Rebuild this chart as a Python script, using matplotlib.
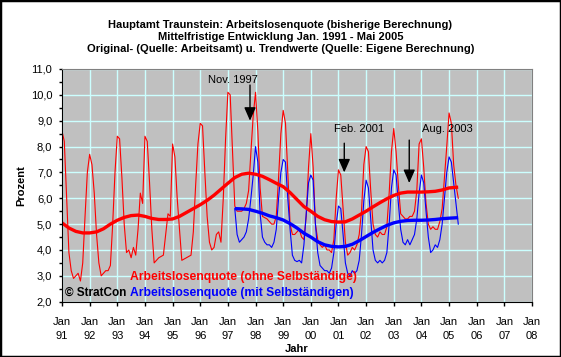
import matplotlib
matplotlib.use("Agg")
import matplotlib.pyplot as plt
import numpy as np
from matplotlib.patches import Rectangle

plt.rcParams['font.family'] = ['Liberation Sans', 'DejaVu Sans']

# ---- data ----
title_lines = ["Hauptamt Traunstein: Arbeitslosenquote (bisherige Berechnung)",
               "Mittelfristige Entwicklung Jan. 1991 - Mai 2005",
               "Original- (Quelle: Arbeitsamt) u. Trendwerte (Quelle: Eigene Berechnung)"]

# Red: Arbeitslosenquote (ohne Selbständige), monthly Jan 1991 - May 2005
red_1991 = [8.6, 8.2, 6.1, 3.9, 3.2, 2.9, 3.0, 3.1, 2.8, 3.5, 5.3, 7.0]
red_1992 = [7.7, 7.3, 6.2, 4.6, 3.5, 3.0, 3.1, 3.2, 3.2, 3.4, 5.0, 7.0]
red_1993 = [8.4, 8.3, 6.8, 5.0, 3.9, 4.0, 3.7, 4.1, 3.8, 4.8, 6.2, 5.8]
red_1994 = [8.4, 8.2, 6.6, 4.8, 3.5, 3.6, 3.7, 3.75, 3.8, 4.6, 5.4, 5.3]
red_1995 = [8.1, 7.6, 6.0, 4.8, 3.6, 3.65, 3.7, 3.75, 3.8, 4.7, 6.5, 8.1]
red_1996 = [8.9, 8.8, 7.0, 5.3, 4.3, 4.0, 4.1, 4.6, 4.7, 4.3, 6.0, 8.3]
red_1997 = [10.1, 10.0, 7.8, 5.7, 5.5, 5.5, 5.5, 5.6, 5.8, 6.3, 7.8, 9.2]
red_1998 = [10.1, 8.6, 6.4, 5.3, 5.25, 5.2, 5.1, 5.0, 5.0, 5.3, 6.8, 8.5]
red_1999 = [9.4, 8.9, 7.0, 5.0, 4.6, 4.6, 4.7, 4.8, 4.5, 4.4, 5.3, 7.2]
red_2000 = [8.5, 7.2, 5.0, 4.4, 4.2, 4.1, 4.2, 4.0, 4.0, 3.9, 4.4, 6.0]
red_2001 = [7.1, 6.9, 5.6, 4.3, 3.8, 3.9, 4.1, 4.0, 4.2, 4.6, 5.5, 7.3]
red_2002 = [8.0, 7.8, 6.3, 5.0, 4.6, 4.5, 4.7, 4.6, 4.6, 4.9, 6.2, 7.8]
red_2003 = [8.7, 7.8, 6.5, 5.4, 5.3, 5.2, 5.2, 5.3, 5.3, 5.5, 6.3, 8.1]
red_2004 = [8.3, 7.2, 5.8, 5.0, 4.8, 4.9, 4.8, 4.8, 5.1, 5.6, 6.8, 8.0]
red_2005 = [9.3, 8.9, 7.3, 6.5, 6.0]

# Blue: Arbeitslosenquote (mit Selbständigen), monthly Apr 1997 - May 2005
blue_1997 = [5.6, 4.6, 4.3, 4.4, 4.5, 4.7, 5.2, 6.0, 6.9]          # Apr-Dec
blue_1998 = [8.0, 7.4, 5.4, 4.5, 4.3, 4.2, 4.2, 4.1, 4.3, 4.8, 6.0, 7.0]
blue_1999 = [7.5, 7.4, 6.0, 4.8, 3.8, 3.6, 3.55, 3.6, 3.5, 4.2, 5.4, 6.6]
blue_2000 = [6.9, 6.7, 5.0, 3.9, 3.4, 3.3, 3.2, 3.2, 3.1, 3.3, 3.9, 5.0]
blue_2001 = [5.7, 5.6, 4.6, 3.5, 3.1, 3.0, 3.2, 3.1, 3.2, 3.6, 4.6, 5.9]
blue_2002 = [6.7, 6.4, 5.2, 4.0, 3.6, 3.5, 3.6, 3.5, 3.6, 3.9, 5.0, 6.4]
blue_2003 = [7.1, 6.9, 5.8, 4.8, 4.3, 4.2, 4.4, 4.2, 4.4, 4.6, 5.2, 6.2]
blue_2004 = [6.9, 6.6, 5.5, 4.5, 3.9, 4.0, 4.2, 4.1, 4.4, 5.0, 6.0, 7.0]
blue_2005 = [7.6, 7.4, 6.6, 5.8, 5.0]

# Trend values (quarterly samples)
red_trend_x = [1991.00, 1991.25, 1991.50, 1991.75, 1992.00, 1992.25, 1992.50, 1992.75,
               1993.00, 1993.25, 1993.50, 1993.75, 1994.00, 1994.25, 1994.50, 1994.75,
               1995.00, 1995.25, 1995.50, 1995.75, 1996.00, 1996.25, 1996.50, 1996.75,
               1997.00, 1997.25, 1997.50, 1997.75, 1998.00, 1998.25, 1998.50, 1998.75,
               1999.00, 1999.25, 1999.50, 1999.75, 2000.00, 2000.25, 2000.50, 2000.75,
               2001.00, 2001.25, 2001.50, 2001.75, 2002.00, 2002.25, 2002.50, 2002.75,
               2003.00, 2003.25, 2003.50, 2003.75, 2004.00, 2004.25, 2004.50, 2004.75,
               2005.00, 2005.33]
red_trend = [5.05, 4.85, 4.72, 4.66, 4.66, 4.70, 4.82, 5.00,
             5.15, 5.26, 5.33, 5.35, 5.30, 5.22, 5.18, 5.18,
             5.20, 5.30, 5.45, 5.60, 5.75, 5.92, 6.12, 6.35,
             6.58, 6.80, 6.93, 6.97, 6.93, 6.85, 6.72, 6.58,
             6.45, 6.22, 5.95, 5.68, 5.50, 5.30, 5.17, 5.10,
             5.08, 5.09, 5.20, 5.35, 5.50, 5.67, 5.83, 5.98,
             6.11, 6.20, 6.24, 6.24, 6.24, 6.25, 6.27, 6.32,
             6.40, 6.43]
blue_trend_x = [1997.25, 1997.50, 1997.75, 1998.00, 1998.25, 1998.50, 1998.75,
                1999.00, 1999.25, 1999.50, 1999.75, 2000.00, 2000.25, 2000.50, 2000.75,
                2001.00, 2001.25, 2001.50, 2001.75, 2002.00, 2002.25, 2002.50, 2002.75,
                2003.00, 2003.25, 2003.50, 2003.75, 2004.00, 2004.25, 2004.50, 2004.75,
                2005.00, 2005.33]
blue_trend = [5.60, 5.59, 5.57, 5.50, 5.42, 5.32, 5.25,
              5.16, 5.02, 4.85, 4.65, 4.50, 4.32, 4.20, 4.14,
              4.12, 4.14, 4.22, 4.36, 4.52, 4.68, 4.82, 4.95,
              5.05, 5.11, 5.14, 5.15, 5.15, 5.16, 5.18, 5.21,
              5.23, 5.25]

year_ticks = list(range(1991, 2009))
year_labels = ["Jan\n%02d" % (y % 100) for y in year_ticks]
y_ticks = [2, 3, 4, 5, 6, 7, 8, 9, 10, 11]
y_labels = ["%d,0" % v for v in y_ticks]

events = [("Nov. 1997", 1997.80), ("Feb. 2001", 2001.21), ("Aug. 2003", 2003.56)]

red_vals = (red_1991 + red_1992 + red_1993 + red_1994 + red_1995 + red_1996 + red_1997 +
            red_1998 + red_1999 + red_2000 + red_2001 + red_2002 + red_2003 + red_2004 + red_2005)
blue_vals = (blue_1997 + blue_1998 + blue_1999 + blue_2000 + blue_2001 + blue_2002 +
             blue_2003 + blue_2004 + blue_2005)
red_x = 1991 + np.arange(len(red_vals)) / 12.0
blue_x = 1997 + 3 / 12.0 + np.arange(len(blue_vals)) / 12.0

# ---- figure ----
W, H = 561, 357
fig = plt.figure(figsize=(W / 100, H / 100), dpi=100, facecolor='white')
L, R, T, B = 62, 532, 69, 301.7
ax = fig.add_axes([L / W, 1 - B / H, (R - L) / W, (B - T) / H])
ax.set_facecolor('#C0C0C0')
ax.set_xlim(1991, 2008)
ax.set_ylim(2, 11)

ax.set_xticks(year_ticks)
ax.set_xticklabels(year_labels, fontsize=8, linespacing=1.55)
ax.set_yticks(y_ticks)
ax.set_yticklabels(y_labels, fontsize=8)
ax.set_yticks(np.arange(2.5, 11, 1.0), minor=True)
ax.tick_params(axis='x', direction='out', length=3, width=1, pad=8, colors='black')
ax.tick_params(axis='y', which='both', direction='out', length=2.5, width=1, pad=4.5)
ax.grid(True, which='major', color='#CCFFFF', linewidth=1.0)
ax.set_axisbelow(True)
for s in ['top', 'right']:
    ax.spines[s].set_color('#808080')
for s in ['left', 'bottom']:
    ax.spines[s].set_color('black')

ax.plot(red_x, red_vals, color='#FF0000', linewidth=0.8)
ax.plot(blue_x, blue_vals, color='#0000FF', linewidth=0.8)
ax.plot(red_trend_x, red_trend, color='#FF0000', linewidth=2.4, solid_capstyle='butt')
ax.plot(blue_trend_x, blue_trend, color='#0000FF', linewidth=2.4, solid_capstyle='butt')

# event arrows
arrow_cfg = [((1997.18, 10.57), (1997.80, 10.38), (1997.80, 9.0)),
             ((2001.74, 8.67), (2001.21, 8.13), (2001.21, 7.0)),
             ((2004.94, 8.67), (2003.56, 8.25), (2003.56, 6.59))]
for (name, _), (tpos, tail, tip) in zip(events, arrow_cfg):
    ax.text(tpos[0], tpos[1], name, fontsize=8, ha='center', va='center')
    ax.annotate('', xy=tip, xytext=tail,
                arrowprops=dict(arrowstyle='-|>,head_length=0.8,head_width=0.35',
                                color='black', lw=1, shrinkA=0, shrinkB=0,
                                mutation_scale=10))

ax.set_ylabel('Prozent', fontsize=8, fontweight='bold', labelpad=3)
ax.set_xlabel('Jahr', fontsize=8, fontweight='bold')
ax.xaxis.set_label_coords(0.5, -0.183)

# legend-like texts
fig.text(130 / W, 1 - 277 / H, 'Arbeitslosenquote (ohne Selbständige)', color='#FF0000',
         fontsize=8.7, fontweight='bold', va='center', ha='left')
fig.text(130 / W, 1 - 293 / H, 'Arbeitslosenquote (mit Selbständigen)', color='#0000FF',
         fontsize=8.7, fontweight='bold', va='center', ha='left')
fig.text(65 / W, 1 - 293 / H, '© StratCon', color='black',
         fontsize=8.5, fontweight='bold', va='center', ha='left')

for i, (line, yy) in enumerate(zip(title_lines, [25, 37, 48.5])):
    fig.text(0.5, 1 - yy / H, line, fontsize=8, fontweight='bold', ha='center', va='center')

fig.patches.append(Rectangle((0, 0), 1, 1, transform=fig.transFigure, fill=False,
                             edgecolor='black', linewidth=2.5))

fig.savefig('out.png', dpi=100, facecolor='white')
